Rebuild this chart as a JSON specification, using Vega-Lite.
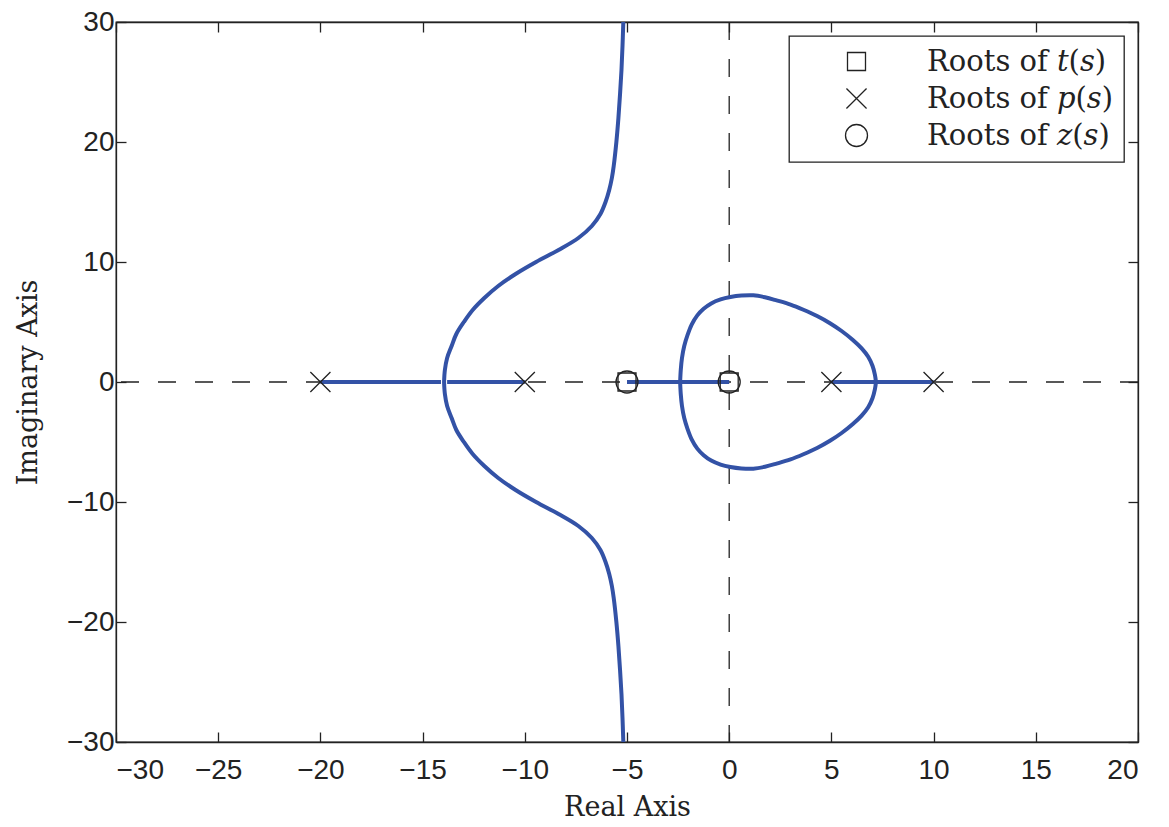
{
  "$schema": "https://vega.github.io/schema/vega-lite/v6.json",
  "autosize": {"type": "none"},
  "width": 1022,
  "height": 720,
  "padding": {"left": 116, "top": 22, "right": 31, "bottom": 85},
  "background": "white",
  "datasets": {
    "locus": [
      {"b": "A", "o": 0, "re": -13.95, "im": 0},
      {"b": "A", "o": 1, "re": -13.91, "im": 1},
      {"b": "A", "o": 2, "re": -13.8, "im": 2},
      {"b": "A", "o": 3, "re": -13.58, "im": 3},
      {"b": "A", "o": 4, "re": -13.35, "im": 4},
      {"b": "A", "o": 5, "re": -12.98, "im": 5},
      {"b": "A", "o": 6, "re": -12.55, "im": 6},
      {"b": "A", "o": 7, "re": -11.98, "im": 7},
      {"b": "A", "o": 8, "re": -11.3, "im": 8},
      {"b": "A", "o": 9, "re": -10.45, "im": 9},
      {"b": "A", "o": 10, "re": -9.45, "im": 10},
      {"b": "A", "o": 11, "re": -8.35, "im": 11},
      {"b": "A", "o": 12, "re": -7.38, "im": 12},
      {"b": "A", "o": 13, "re": -6.72, "im": 13},
      {"b": "A", "o": 14, "re": -6.3, "im": 14},
      {"b": "A", "o": 15, "re": -6.05, "im": 15},
      {"b": "A", "o": 16, "re": -5.87, "im": 16},
      {"b": "A", "o": 17, "re": -5.74, "im": 17},
      {"b": "A", "o": 18, "re": -5.65, "im": 18},
      {"b": "A", "o": 19, "re": -5.52, "im": 20},
      {"b": "A", "o": 20, "re": -5.42, "im": 22},
      {"b": "A", "o": 21, "re": -5.34, "im": 24},
      {"b": "A", "o": 22, "re": -5.27, "im": 26},
      {"b": "A", "o": 23, "re": -5.22, "im": 28},
      {"b": "A", "o": 24, "re": -5.18, "im": 30},
      {"b": "A", "o": 25, "re": -5.16, "im": 31},
      {"b": "B", "o": 0, "re": -13.95, "im": 0},
      {"b": "B", "o": 1, "re": -13.91, "im": -1},
      {"b": "B", "o": 2, "re": -13.8, "im": -2},
      {"b": "B", "o": 3, "re": -13.58, "im": -3},
      {"b": "B", "o": 4, "re": -13.35, "im": -4},
      {"b": "B", "o": 5, "re": -12.98, "im": -5},
      {"b": "B", "o": 6, "re": -12.55, "im": -6},
      {"b": "B", "o": 7, "re": -11.98, "im": -7},
      {"b": "B", "o": 8, "re": -11.3, "im": -8},
      {"b": "B", "o": 9, "re": -10.45, "im": -9},
      {"b": "B", "o": 10, "re": -9.45, "im": -10},
      {"b": "B", "o": 11, "re": -8.35, "im": -11},
      {"b": "B", "o": 12, "re": -7.38, "im": -12},
      {"b": "B", "o": 13, "re": -6.72, "im": -13},
      {"b": "B", "o": 14, "re": -6.3, "im": -14},
      {"b": "B", "o": 15, "re": -6.05, "im": -15},
      {"b": "B", "o": 16, "re": -5.87, "im": -16},
      {"b": "B", "o": 17, "re": -5.74, "im": -17},
      {"b": "B", "o": 18, "re": -5.65, "im": -18},
      {"b": "B", "o": 19, "re": -5.52, "im": -20},
      {"b": "B", "o": 20, "re": -5.42, "im": -22},
      {"b": "B", "o": 21, "re": -5.34, "im": -24},
      {"b": "B", "o": 22, "re": -5.27, "im": -26},
      {"b": "B", "o": 23, "re": -5.22, "im": -28},
      {"b": "B", "o": 24, "re": -5.18, "im": -30},
      {"b": "B", "o": 25, "re": -5.16, "im": -31},
      {"b": "C", "o": 0, "re": -20, "im": 0},
      {"b": "C", "o": 1, "re": -14.1, "im": 0},
      {"b": "D", "o": 0, "re": -10, "im": 0},
      {"b": "D", "o": 1, "re": -13.8, "im": 0},
      {"b": "E", "o": 0, "re": -5, "im": 0},
      {"b": "E", "o": 1, "re": 0, "im": 0},
      {"b": "F", "o": 0, "re": 5, "im": 0},
      {"b": "F", "o": 1, "re": 10, "im": 0},
      {"b": "G", "o": 0, "re": -2.4, "im": 0},
      {"b": "G", "o": 1, "re": -2.37, "im": 1.0},
      {"b": "G", "o": 2, "re": -2.31, "im": 2.0},
      {"b": "G", "o": 3, "re": -2.2, "im": 3.0},
      {"b": "G", "o": 4, "re": -2.04, "im": 3.9},
      {"b": "G", "o": 5, "re": -1.83, "im": 4.8},
      {"b": "G", "o": 6, "re": -1.56, "im": 5.55},
      {"b": "G", "o": 7, "re": -1.25, "im": 6.1},
      {"b": "G", "o": 8, "re": -0.88, "im": 6.55},
      {"b": "G", "o": 9, "re": -0.42, "im": 6.88},
      {"b": "G", "o": 10, "re": 0.06, "im": 7.08},
      {"b": "G", "o": 11, "re": 0.6, "im": 7.2},
      {"b": "G", "o": 12, "re": 1.18, "im": 7.22},
      {"b": "G", "o": 13, "re": 1.75, "im": 7.06},
      {"b": "G", "o": 14, "re": 2.32, "im": 6.8},
      {"b": "G", "o": 15, "re": 3.0, "im": 6.45},
      {"b": "G", "o": 16, "re": 3.63, "im": 6.02},
      {"b": "G", "o": 17, "re": 4.3, "im": 5.5},
      {"b": "G", "o": 18, "re": 4.93, "im": 4.9},
      {"b": "G", "o": 19, "re": 5.5, "im": 4.25},
      {"b": "G", "o": 20, "re": 6.05, "im": 3.5},
      {"b": "G", "o": 21, "re": 6.48, "im": 2.8},
      {"b": "G", "o": 22, "re": 6.8, "im": 2.1},
      {"b": "G", "o": 23, "re": 7.01, "im": 1.35},
      {"b": "G", "o": 24, "re": 7.13, "im": 0.6},
      {"b": "G", "o": 25, "re": 7.18, "im": 0},
      {"b": "H", "o": 0, "re": -2.4, "im": 0},
      {"b": "H", "o": 1, "re": -2.37, "im": -1.0},
      {"b": "H", "o": 2, "re": -2.31, "im": -2.0},
      {"b": "H", "o": 3, "re": -2.2, "im": -3.0},
      {"b": "H", "o": 4, "re": -2.04, "im": -3.9},
      {"b": "H", "o": 5, "re": -1.83, "im": -4.8},
      {"b": "H", "o": 6, "re": -1.56, "im": -5.55},
      {"b": "H", "o": 7, "re": -1.25, "im": -6.1},
      {"b": "H", "o": 8, "re": -0.88, "im": -6.55},
      {"b": "H", "o": 9, "re": -0.42, "im": -6.88},
      {"b": "H", "o": 10, "re": 0.06, "im": -7.08},
      {"b": "H", "o": 11, "re": 0.6, "im": -7.2},
      {"b": "H", "o": 12, "re": 1.18, "im": -7.22},
      {"b": "H", "o": 13, "re": 1.75, "im": -7.06},
      {"b": "H", "o": 14, "re": 2.32, "im": -6.8},
      {"b": "H", "o": 15, "re": 3.0, "im": -6.45},
      {"b": "H", "o": 16, "re": 3.63, "im": -6.02},
      {"b": "H", "o": 17, "re": 4.3, "im": -5.5},
      {"b": "H", "o": 18, "re": 4.93, "im": -4.9},
      {"b": "H", "o": 19, "re": 5.5, "im": -4.25},
      {"b": "H", "o": 20, "re": 6.05, "im": -3.5},
      {"b": "H", "o": 21, "re": 6.48, "im": -2.8},
      {"b": "H", "o": 22, "re": 6.8, "im": -2.1},
      {"b": "H", "o": 23, "re": 7.01, "im": -1.35},
      {"b": "H", "o": 24, "re": 7.13, "im": -0.6},
      {"b": "H", "o": 25, "re": 7.18, "im": 0}
    ],
    "roots": [
      {"series": "Roots of 𝑡(𝑠)", "re": -5, "im": 0},
      {"series": "Roots of 𝑡(𝑠)", "re": 0, "im": 0},
      {"series": "Roots of 𝑝(𝑠)", "re": -20, "im": 0},
      {"series": "Roots of 𝑝(𝑠)", "re": -10, "im": 0},
      {"series": "Roots of 𝑝(𝑠)", "re": 5, "im": 0},
      {"series": "Roots of 𝑝(𝑠)", "re": 10, "im": 0},
      {"series": "Roots of 𝑧(𝑠)", "re": -5, "im": 0},
      {"series": "Roots of 𝑧(𝑠)", "re": 0, "im": 0}
    ],
    "vrule": [{"v": 0}],
    "hrule": [{"v": 0}]
  },
  "layer": [
    {
      "data": {"name": "vrule"},
      "mark": {"type": "rule", "color": "#222", "strokeWidth": 1.3, "strokeDash": [18, 19]},
      "encoding": {
        "x": {"field": "v", "type": "quantitative", "scale": {"domain": [-30, 20], "nice": false, "zero": false},
          "axis": {"values": [-30, -25, -20, -15, -10, -5, 0, 5, 10, 15, 20], "title": "Real Axis", "labelPadding": 24, "titlePadding": 10}}
      }
    },
    {
      "data": {"name": "hrule"},
      "mark": {"type": "rule", "color": "#222", "strokeWidth": 1.3, "strokeDash": [18, 19]},
      "encoding": {
        "y": {"field": "v", "type": "quantitative", "scale": {"domain": [-30, 30], "nice": false, "zero": false},
          "axis": {"values": [-30, -20, -10, 0, 10, 20, 30], "title": "Imaginary Axis", "labelPadding": 12, "titlePadding": 24}}
      }
    },
    {
      "data": {"name": "locus"},
      "mark": {"type": "line", "color": "#3352a6", "strokeWidth": 4, "clip": true, "interpolate": "catmull-rom"},
      "encoding": {
        "x": {"field": "re", "type": "quantitative", "axis": null},
        "y": {"field": "im", "type": "quantitative", "axis": null},
        "detail": {"field": "b"},
        "order": {"field": "o", "type": "quantitative"}
      }
    },
    {
      "data": {"name": "roots"},
      "mark": {"type": "point", "filled": false, "color": "#222", "strokeWidth": 1.3, "opacity": 1},
      "encoding": {
        "x": {"field": "re", "type": "quantitative", "axis": null},
        "y": {"field": "im", "type": "quantitative", "axis": null},
        "shape": {"field": "series", "type": "nominal",
          "scale": {"domain": ["Roots of 𝑡(𝑠)", "Roots of 𝑝(𝑠)", "Roots of 𝑧(𝑠)"], "range": ["square", "M-1,-1L1,1M-1,1L1,-1", "circle"]},
          "legend": {"title": null}},
        "size": {"field": "series", "type": "nominal",
          "scale": {"domain": ["Roots of 𝑡(𝑠)", "Roots of 𝑝(𝑠)", "Roots of 𝑧(𝑠)"], "range": [324, 484, 576]},
          "legend": {"title": null}}
      }
    },
    {
      "data": {"name": "vrule"},
      "mark": {"type": "rule", "opacity": 0},
      "encoding": {
        "x": {"field": "v", "type": "quantitative", "axis": {"orient": "top", "labels": false, "title": null, "values": [-30, -25, -20, -15, -10, -5, 0, 5, 10, 15, 20]}},
        "y": {"field": "v", "type": "quantitative", "axis": {"orient": "right", "labels": false, "title": null, "values": [-30, -20, -10, 0, 10, 20, 30]}}
      }
    }
  ],
  "resolve": {"axis": {"x": "independent", "y": "independent"}},
  "config": {
    "view": {"stroke": "#222", "strokeWidth": 1.3},
    "axis": {
      "grid": false,
      "domainColor": "#222",
      "domainWidth": 1.3,
      "tickColor": "#222",
      "tickWidth": 1.3,
      "tickSize": -10,
      "labelFont": "Liberation Sans",
      "labelFontSize": 28,
      "labelColor": "#222",
      "titleFont": "DejaVu Serif",
      "titleFontSize": 27,
      "titleFontWeight": "normal",
      "titleColor": "#222"
    },
    "legend": {
      "orient": "top-right",
      "offset": 14,
      "strokeColor": "#222",
      "strokeWidth": 1.3,
      "fillColor": "white",
      "padding": 11,
      "symbolOffset": 42,
      "labelOffset": 56,
      "labelLimit": 400,
      "labelFont": "DejaVu Serif",
      "labelFontSize": 29,
      "labelColor": "#222",
      "rowPadding": 7,
      "symbolStrokeWidth": 1.3
    }
  }
}
